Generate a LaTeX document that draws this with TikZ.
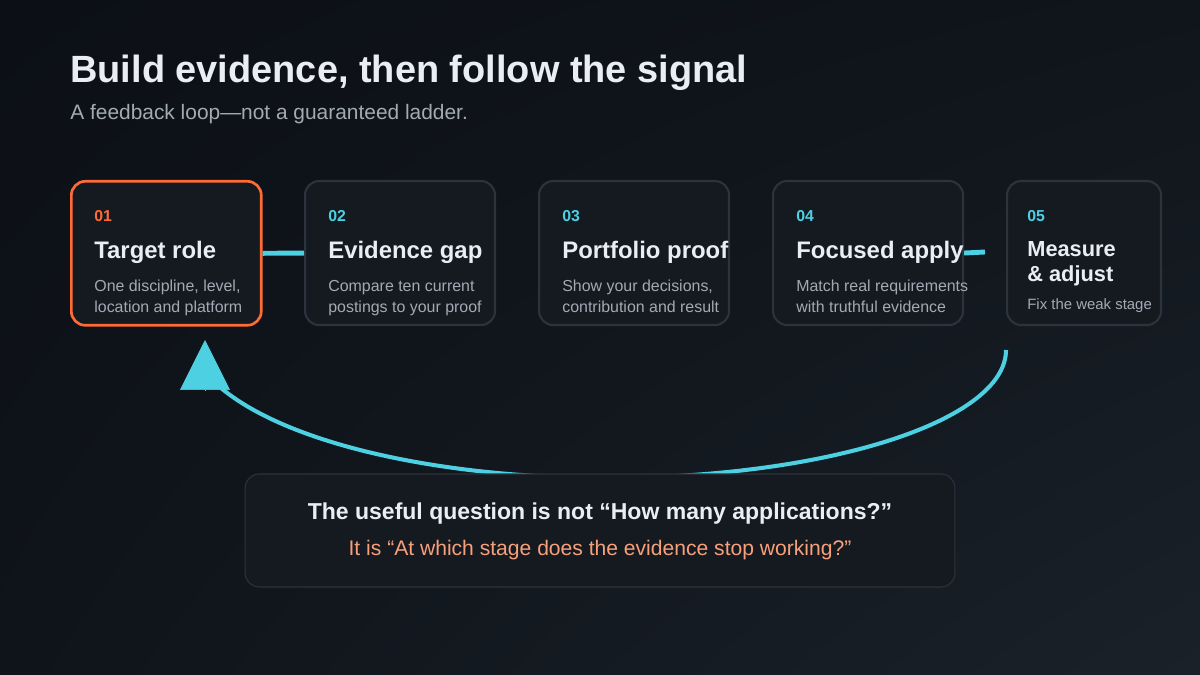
\documentclass[tikz,border=0pt]{standalone}
\usepackage{fontspec}
\setmainfont{Liberation Sans}
\usepackage{tikz}
\usetikzlibrary{positioning,arrows.meta,calc,shadings}
\definecolor{bgA}{HTML}{0C1016}
\definecolor{bgB}{HTML}{10151B}
\definecolor{bgC}{HTML}{0F141A}
\definecolor{bgD}{HTML}{1A2129}
\definecolor{cardfill}{HTML}{151A21}
\definecolor{cardline}{HTML}{2C333C}
\definecolor{hot}{HTML}{FF6B35}
\definecolor{softhot}{HTML}{F7A07A}
\definecolor{teal}{HTML}{4DD0E1}
\definecolor{ink}{HTML}{EAEEF4}
\definecolor{muted}{HTML}{A3AAB3}
\tikzset{card/.style={draw=cardline,line width=1.2pt,fill=cardfill,rounded corners=0.28cm,minimum width=3.8cm,minimum height=2.88cm,anchor=north west,inner sep=0pt}}
\tikzset{cardhot/.style={card,draw=hot,line width=1.5pt}}
\tikzset{num/.style={anchor=base west,inner sep=0pt,text=teal,font=\bfseries\fontsize{9}{11}\selectfont}}
\tikzset{head/.style={anchor=base west,inner sep=0pt,text=ink,align=left,font=\bfseries\fontsize{13.6}{16}\selectfont}}
\tikzset{desc/.style={anchor=base west,inner sep=0pt,text=muted,align=left,font=\fontsize{9.07}{12.5}\selectfont}}
\tikzset{link/.style={draw=teal,line width=2.8pt}}
\tikzset{feedback/.style={draw=teal,line width=2.3pt}}
\tikzset{feedtip/.style={draw=teal,line width=0.4pt,-{Triangle[length=1cm,width=1cm]}}}

\begin{document}
\begin{tikzpicture}[x=0.02cm, y=-0.02cm]
    \shade[upper left=bgA, upper right=bgB, lower left=bgC, lower right=bgD] (0,0) rectangle (1200,675);

    \node[anchor=base west,inner sep=0pt,text=ink,font=\bfseries\fontsize{21.6}{26}\selectfont] (title) at (70,83) {Build evidence, then follow the signal};
    \node[anchor=base west,inner sep=0pt,text=muted,font=\fontsize{11.9}{14}\selectfont] (subtitle) at (70,120) {A feedback loop---not a guaranteed ladder.};

    \node[cardhot] (b1) at (70,180) {};
    \node[card] (b2) at (304,180) {};
    \node[card] (b3) at (538,180) {};
    \node[card] (b4) at (772,180) {};
    \node[card,minimum width=3.08cm] (b5) at (1006,180) {};

    \node[num,text=hot] (n1) at (94,222) {01};
    \node[head] (h1) at (94,259) {Target role};
    \node[desc] (d1) at (94,313) {One discipline, level,\\location and platform};

    \node[num] (n2) at (328,222) {02};
    \node[head] (h2) at (328,259) {Evidence gap};
    \node[desc] (d2) at (328,313) {Compare ten current\\postings to your proof};

    \node[num] (n3) at (562,222) {03};
    \node[head] (h3) at (562,259) {Portfolio proof};
    \node[desc] (d3) at (562,313) {Show your decisions,\\contribution and result};

    \node[num] (n4) at (796,222) {04};
    \node[head] (h4) at (796,259) {Focused apply};
    \node[desc] (d4) at (796,313) {Match real requirements\\with truthful evidence};

    \node[num] (n5) at (1027,222) {05};
    \node[head,font=\bfseries\fontsize{12.4}{14.7}\selectfont] (h5) at (1027,282) {Measure\\\& adjust};
    \node[desc,font=\fontsize{8.5}{10}\selectfont] (d5) at (1027,310) {Fix the weak stage};

    \draw[link] (b1.east) -- (b2.west);
    \coordinate (gap45) at (985,252);
    \draw[link] (b4.east) -- (gap45);

    \coordinate (loopfrom) at (1006,350);
    \coordinate (loopfoot) at (221,388);
    \coordinate (tipfoot) at (205,390);
    \coordinate (loopto) at (205,340);
    \draw[feedback] (loopfrom) .. controls (1006,420) and (830,478) .. (605,478) .. controls (450,478) and (292,447) .. (loopfoot);
    \draw[feedtip] (tipfoot) -- (loopto);

    \node[draw=cardline,line width=0.6pt,fill=cardfill,rounded corners=0.28cm,minimum width=14.2cm,minimum height=2.26cm,inner sep=0pt] (note) at (600,530.5) {};
    \node[anchor=base,inner sep=0pt,text=ink,font=\bfseries\fontsize{13.1}{15}\selectfont] (q1) at (600,519) {The useful question is not “How many applications?”};
    \node[anchor=base,inner sep=0pt,text=softhot,font=\fontsize{12}{14}\selectfont] (q2) at (600,555) {It is “At which stage does the evidence stop working?”};
\end{tikzpicture}
\end{document}
